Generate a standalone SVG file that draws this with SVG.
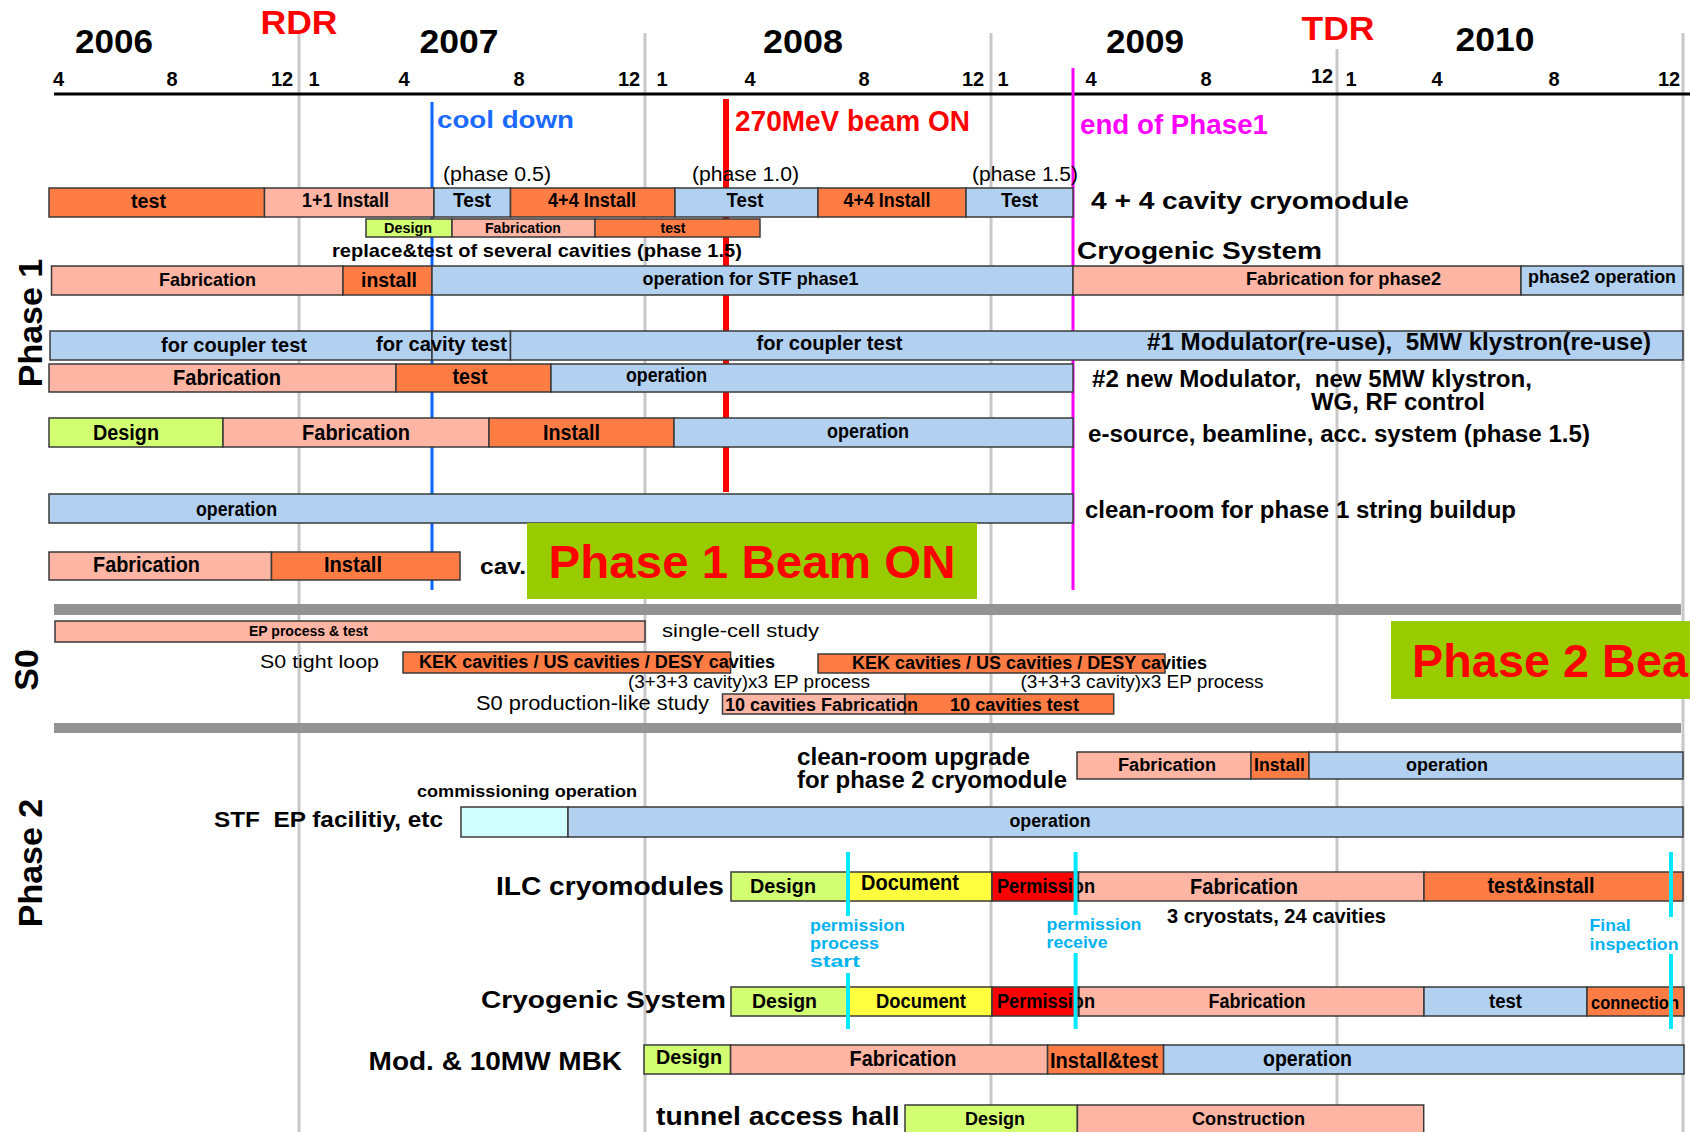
<svg xmlns="http://www.w3.org/2000/svg" width="1690" height="1132" viewBox="0 0 1690 1132">
<style>
text{font-family:"Liberation Sans",Arial,Helvetica,sans-serif;font-weight:bold;fill:#000}
.n{font-weight:normal}
.m{text-anchor:middle}
.r{fill:#ff0000}
.cy{fill:#00b2f0}
.or{fill:#ff7c45;stroke:#3a3a3a;stroke-width:1.5}
.sa{fill:#ffb5a3;stroke:#3a3a3a;stroke-width:1.5}
.bl{fill:#b2d0f0;stroke:#3a3a3a;stroke-width:1.5}
.gr{fill:#d3ff73;stroke:#3a3a3a;stroke-width:1.5}
.ye{fill:#ffff3f;stroke:#3a3a3a;stroke-width:1.5}
.rd{fill:#ff0000;stroke:#3a3a3a;stroke-width:1.5}
.lc{fill:#d2ffff;stroke:#3a3a3a;stroke-width:1.5}
.grid{stroke:#c8c8c8;stroke-width:3}
.sep{fill:#939393}
.cyl{stroke:#00eaff;stroke-width:4}
</style>
<rect width="1690" height="1132" fill="#fff"/>
<g id="grid">
<line class="grid" x1="299" y1="34" x2="299" y2="1132"/>
<line class="grid" x1="645" y1="33" x2="645" y2="1132"/>
<line class="grid" x1="991" y1="33" x2="991" y2="1132"/>
<line class="grid" x1="1337" y1="49" x2="1337" y2="1132"/>
<line class="grid" x1="1683" y1="33" x2="1683" y2="1132"/>
</g>
<g id="axis">
<line x1="54" y1="94" x2="1690" y2="94" stroke="#000" stroke-width="3"/>
<text x="114" y="53" class="m" font-size="33" textLength="78" lengthAdjust="spacingAndGlyphs">2006</text>
<text x="459" y="53" class="m" font-size="33" textLength="79" lengthAdjust="spacingAndGlyphs">2007</text>
<text x="803" y="53" class="m" font-size="33" textLength="80" lengthAdjust="spacingAndGlyphs">2008</text>
<text x="1145" y="53" class="m" font-size="33" textLength="78" lengthAdjust="spacingAndGlyphs">2009</text>
<text x="1495" y="51" class="m" font-size="33" textLength="79" lengthAdjust="spacingAndGlyphs">2010</text>
<text x="299" y="34" class="m r" font-size="33" textLength="77" lengthAdjust="spacingAndGlyphs">RDR</text>
<text x="1338" y="40" class="m r" font-size="33" textLength="73" lengthAdjust="spacingAndGlyphs">TDR</text>
<g font-size="20">
<text x="58.5" y="86" class="m">4</text>
<text x="172" y="86" class="m">8</text>
<text x="282" y="86" class="m">12</text>
<text x="314" y="86" class="m">1</text>
<text x="404" y="86" class="m">4</text>
<text x="519" y="86" class="m">8</text>
<text x="629" y="86" class="m">12</text>
<text x="662" y="86" class="m">1</text>
<text x="750" y="86" class="m">4</text>
<text x="864" y="86" class="m">8</text>
<text x="973" y="86" class="m">12</text>
<text x="1003" y="86" class="m">1</text>
<text x="1091" y="86" class="m">4</text>
<text x="1206" y="86" class="m">8</text>
<text x="1322" y="83" class="m">12</text>
<text x="1351" y="86" class="m">1</text>
<text x="1437" y="86" class="m">4</text>
<text x="1554" y="86" class="m">8</text>
<text x="1669" y="86" class="m">12</text>
</g>
</g>
<g id="events">
<line x1="432" y1="102" x2="432" y2="590" stroke="#0a64ff" stroke-width="3"/>
<line x1="726" y1="99" x2="726" y2="492" stroke="#ff0000" stroke-width="6"/>
<line x1="1073" y1="68" x2="1073" y2="590" stroke="#ff00ff" stroke-width="3"/>
<text x="437" y="128" font-size="23" style="fill:#1a6aff" textLength="137" lengthAdjust="spacingAndGlyphs">cool down</text>
<text x="735" y="131" font-size="29" class="r" textLength="235" lengthAdjust="spacingAndGlyphs">270MeV beam ON</text>
<text x="1080" y="134" font-size="27" style="fill:#ff00ff" textLength="188" lengthAdjust="spacingAndGlyphs">end of Phase1</text>
</g>
<g id="sections">
<text transform="translate(42,323) rotate(-90)" class="m" font-size="34">Phase 1</text>
<text transform="translate(38,670) rotate(-90)" class="m" font-size="34">S0</text>
<text transform="translate(42,863) rotate(-90)" class="m" font-size="34">Phase 2</text>
<rect class="sep" x="54" y="604" width="1627" height="11"/>
<rect class="sep" x="54" y="723" width="1627" height="10"/>
</g>
<g id="row-cryomodule">
<text x="443" y="181" class="n" font-size="19.5" textLength="108" lengthAdjust="spacingAndGlyphs">(phase 0.5)</text>
<text x="692" y="181" class="n" font-size="19.5" textLength="107" lengthAdjust="spacingAndGlyphs">(phase 1.0)</text>
<text x="972" y="181" class="n" font-size="19.5" textLength="106" lengthAdjust="spacingAndGlyphs">(phase 1.5)</text>
<rect class="or" x="49" y="188" width="215.5" height="29"/>
<rect class="sa" x="264.5" y="188" width="169.5" height="29"/>
<rect class="bl" x="434" y="188" width="76.5" height="29"/>
<rect class="or" x="510.5" y="188" width="164.5" height="29"/>
<rect class="bl" x="675" y="188" width="143" height="29"/>
<rect class="or" x="818" y="188" width="148" height="29"/>
<rect class="bl" x="966" y="188" width="107" height="29"/>
<g font-size="20">
<text x="148.5" y="208" class="m" textLength="35" lengthAdjust="spacingAndGlyphs">test</text>
<text x="345.5" y="207" class="m" textLength="87" lengthAdjust="spacingAndGlyphs">1+1 Install</text>
<text x="472" y="207" class="m" textLength="38" lengthAdjust="spacingAndGlyphs">Test</text>
<text x="592" y="207" class="m" textLength="88" lengthAdjust="spacingAndGlyphs">4+4 Install</text>
<text x="745" y="207" class="m" textLength="37" lengthAdjust="spacingAndGlyphs">Test</text>
<text x="887" y="207" class="m" textLength="87" lengthAdjust="spacingAndGlyphs">4+4 Install</text>
<text x="1019.5" y="207" class="m" textLength="37" lengthAdjust="spacingAndGlyphs">Test</text>
</g>
<text x="1091" y="209" font-size="23" textLength="318" lengthAdjust="spacingAndGlyphs">4 + 4 cavity cryomodule</text>
</g>
<g id="row-replace">
<rect class="gr" x="366" y="219" width="86" height="18"/>
<rect class="sa" x="452" y="219" width="143" height="18"/>
<rect class="or" x="595" y="219" width="165" height="18"/>
<g font-size="14">
<text x="408" y="233" class="m" textLength="48" lengthAdjust="spacingAndGlyphs">Design</text>
<text x="523" y="233" class="m" textLength="76" lengthAdjust="spacingAndGlyphs">Fabrication</text>
<text x="673" y="233" class="m" textLength="25" lengthAdjust="spacingAndGlyphs">test</text>
</g>
<text x="332" y="257" font-size="19" textLength="410" lengthAdjust="spacingAndGlyphs">replace&amp;test of several cavities (phase 1.5)</text>
</g>
<g id="row-cryogenic">
<text x="1077" y="259" font-size="23" textLength="245" lengthAdjust="spacingAndGlyphs">Cryogenic System</text>
<rect class="sa" x="51.5" y="266" width="291.5" height="29"/>
<rect class="or" x="343" y="266" width="89" height="29"/>
<rect class="bl" x="432" y="266" width="641" height="29"/>
<rect class="sa" x="1073" y="266" width="448" height="29"/>
<rect class="bl" x="1521" y="266" width="162" height="29"/>
<text x="207.5" y="286" class="m" font-size="19" textLength="97" lengthAdjust="spacingAndGlyphs">Fabrication</text>
<text x="389" y="287" class="m" font-size="21" textLength="56" lengthAdjust="spacingAndGlyphs">install</text>
<text x="750.5" y="285" class="m" font-size="19" textLength="216" lengthAdjust="spacingAndGlyphs">operation for STF phase1</text>
<text x="1343.5" y="285" class="m" font-size="19" textLength="195" lengthAdjust="spacingAndGlyphs">Fabrication for phase2</text>
<text x="1602" y="283" class="m" font-size="19" textLength="148" lengthAdjust="spacingAndGlyphs">phase2 operation</text>
</g>
<g id="row-modulator1">
<rect class="bl" x="50" y="331" width="382" height="29"/>
<rect class="bl" x="432" y="331" width="78.5" height="29"/>
<rect class="bl" x="510.5" y="331" width="1172.5" height="29"/>
<text x="234" y="352" class="m" font-size="21" textLength="146" lengthAdjust="spacingAndGlyphs">for coupler test</text>
<text x="441.5" y="351" class="m" font-size="21" textLength="131" lengthAdjust="spacingAndGlyphs">for cavity test</text>
<text x="829.5" y="350" class="m" font-size="21" textLength="146" lengthAdjust="spacingAndGlyphs">for coupler test</text>
<text x="1147" y="350" font-size="24" textLength="504" lengthAdjust="spacingAndGlyphs">#1 Modulator(re-use),&#160; 5MW klystron(re-use)</text>
</g>
<g id="row-modulator2">
<rect class="sa" x="49" y="364" width="347" height="28"/>
<rect class="or" x="396" y="364" width="155" height="28"/>
<rect class="bl" x="551" y="364" width="522" height="28"/>
<text x="227" y="385" class="m" font-size="22" textLength="108" lengthAdjust="spacingAndGlyphs">Fabrication</text>
<text x="470" y="384" class="m" font-size="22" textLength="35" lengthAdjust="spacingAndGlyphs">test</text>
<text x="666.5" y="382" class="m" font-size="20" textLength="81" lengthAdjust="spacingAndGlyphs">operation</text>
<text x="1092" y="387" font-size="23" textLength="440" lengthAdjust="spacingAndGlyphs">#2 new Modulator,&#160; new 5MW klystron,</text>
<text x="1311" y="410" font-size="23" textLength="174" lengthAdjust="spacingAndGlyphs">WG, RF control</text>
</g>
<g id="row-esource">
<rect class="gr" x="49" y="418" width="174" height="29"/>
<rect class="sa" x="223" y="418" width="266" height="29"/>
<rect class="or" x="489" y="418" width="185" height="29"/>
<rect class="bl" x="674" y="418" width="399" height="29"/>
<text x="126" y="440" class="m" font-size="22" textLength="66" lengthAdjust="spacingAndGlyphs">Design</text>
<text x="356" y="440" class="m" font-size="22" textLength="108" lengthAdjust="spacingAndGlyphs">Fabrication</text>
<text x="571.5" y="440" class="m" font-size="22" textLength="57" lengthAdjust="spacingAndGlyphs">Install</text>
<text x="868" y="438" class="m" font-size="20" textLength="82" lengthAdjust="spacingAndGlyphs">operation</text>
<text x="1088" y="442" font-size="23" textLength="502" lengthAdjust="spacingAndGlyphs">e-source, beamline, acc. system (phase 1.5)</text>
</g>
<g id="row-cleanroom">
<rect class="bl" x="49" y="494" width="1024" height="29"/>
<text x="236.5" y="516" class="m" font-size="20" textLength="81" lengthAdjust="spacingAndGlyphs">operation</text>
<text x="1085" y="518" font-size="23" textLength="431" lengthAdjust="spacingAndGlyphs">clean-room for phase 1 string buildup</text>
</g>
<g id="row-cav">
<rect class="sa" x="49" y="552" width="222.5" height="28"/>
<rect class="or" x="271.5" y="552" width="188.5" height="28"/>
<text x="146.5" y="572" class="m" font-size="22" textLength="107" lengthAdjust="spacingAndGlyphs">Fabrication</text>
<text x="353" y="572" class="m" font-size="22" textLength="58" lengthAdjust="spacingAndGlyphs">Install</text>
<text x="480" y="574" font-size="22" textLength="46" lengthAdjust="spacingAndGlyphs">cav.</text>
</g>
<g id="phase1-beam-on">
<rect x="527" y="523" width="450" height="76" fill="#99cc00"/>
<text x="548.5" y="578" font-size="46" class="r" textLength="407" lengthAdjust="spacingAndGlyphs">Phase 1 Beam ON</text>
</g>
<g id="s0-single-cell">
<rect class="sa" x="55" y="621" width="590" height="21"/>
<text x="308.5" y="636" class="m" font-size="14" textLength="119" lengthAdjust="spacingAndGlyphs">EP process &amp; test</text>
<text x="662" y="637" class="n" font-size="19" textLength="157" lengthAdjust="spacingAndGlyphs">single-cell study</text>
</g>
<g id="s0-tight-loop">
<text x="260" y="668" class="n" font-size="19" textLength="119" lengthAdjust="spacingAndGlyphs">S0 tight loop</text>
<rect class="or" x="403" y="652" width="327.6" height="21"/>
<text x="419" y="668" font-size="18" textLength="356" lengthAdjust="spacingAndGlyphs">KEK cavities / US cavities / DESY cavities</text>
<text x="628" y="688" class="n" font-size="18" textLength="242" lengthAdjust="spacingAndGlyphs">(3+3+3 cavity)x3 EP process</text>
<rect class="or" x="818" y="654" width="347" height="19"/>
<text x="852" y="669" font-size="18" textLength="355" lengthAdjust="spacingAndGlyphs">KEK cavities / US cavities / DESY cavities</text>
<text x="1020.5" y="688" class="n" font-size="18" textLength="243" lengthAdjust="spacingAndGlyphs">(3+3+3 cavity)x3 EP process</text>
</g>
<g id="s0-production">
<text x="476" y="710" class="n" font-size="20" textLength="233" lengthAdjust="spacingAndGlyphs">S0 production-like study</text>
<rect class="sa" x="722.5" y="694" width="182.5" height="20"/>
<rect class="or" x="905" y="694" width="208.7" height="20"/>
<text x="725" y="711" font-size="18" textLength="193" lengthAdjust="spacingAndGlyphs">10 cavities Fabrication</text>
<text x="950" y="711" font-size="18" textLength="129" lengthAdjust="spacingAndGlyphs">10 cavities test</text>
</g>
<g id="phase2-beam-on">
<rect x="1391" y="621" width="310" height="78" fill="#99cc00"/>
<text x="1412" y="677" font-size="47" class="r" textLength="276" lengthAdjust="spacingAndGlyphs">Phase 2 Bea</text>
</g>
<g id="p2-cleanroom">
<text x="797" y="765" font-size="23" textLength="233" lengthAdjust="spacingAndGlyphs">clean-room upgrade</text>
<text x="797" y="788" font-size="23" textLength="270" lengthAdjust="spacingAndGlyphs">for phase 2 cryomodule</text>
<rect class="sa" x="1077" y="752" width="174" height="27"/>
<rect class="or" x="1251" y="752" width="58" height="27"/>
<rect class="bl" x="1309" y="752" width="374" height="27"/>
<text x="1167" y="771" class="m" font-size="18" textLength="98" lengthAdjust="spacingAndGlyphs">Fabrication</text>
<text x="1279.5" y="771" class="m" font-size="18" textLength="51" lengthAdjust="spacingAndGlyphs">Install</text>
<text x="1447" y="771" class="m" font-size="18" textLength="82" lengthAdjust="spacingAndGlyphs">operation</text>
</g>
<g id="p2-stf">
<text x="417" y="797" font-size="17" textLength="220" lengthAdjust="spacingAndGlyphs">commissioning operation</text>
<text x="214" y="827" font-size="22" textLength="229" lengthAdjust="spacingAndGlyphs">STF&#160; EP facilitiy, etc</text>
<rect class="lc" x="461" y="807" width="107" height="30"/>
<rect class="bl" x="568" y="807" width="1115" height="30"/>
<text x="1050" y="827" class="m" font-size="19" textLength="81" lengthAdjust="spacingAndGlyphs">operation</text>
</g>
<g id="p2-ilc">
<text x="496" y="895" font-size="25" textLength="228" lengthAdjust="spacingAndGlyphs">ILC cryomodules</text>
<rect class="gr" x="731" y="872" width="116" height="29"/>
<rect class="ye" x="847" y="872" width="145" height="29"/>
<rect class="rd" x="992" y="872" width="86.5" height="29"/>
<rect class="sa" x="1078.5" y="872" width="345.5" height="29"/>
<rect class="or" x="1424" y="872" width="259" height="29"/>
<text x="783" y="893" class="m" font-size="20" textLength="66" lengthAdjust="spacingAndGlyphs">Design</text>
<text x="910" y="890" class="m" font-size="22" textLength="98" lengthAdjust="spacingAndGlyphs">Document</text>
<text x="1046" y="893" class="m" font-size="20" textLength="98" lengthAdjust="spacingAndGlyphs">Permission</text>
<text x="1244" y="894" class="m" font-size="22" textLength="108" lengthAdjust="spacingAndGlyphs">Fabrication</text>
<text x="1541" y="893" class="m" font-size="22" textLength="107" lengthAdjust="spacingAndGlyphs">test&amp;install</text>
<text x="1167" y="923" font-size="20" textLength="219" lengthAdjust="spacingAndGlyphs">3 cryostats, 24 cavities</text>
</g>
<g id="p2-cryo">
<text x="481" y="1008" font-size="23" textLength="245" lengthAdjust="spacingAndGlyphs">Cryogenic System</text>
<rect class="gr" x="731" y="987" width="116" height="29"/>
<rect class="ye" x="847" y="987" width="145" height="29"/>
<rect class="rd" x="992" y="987" width="87" height="29"/>
<rect class="sa" x="1079" y="987" width="345" height="29"/>
<rect class="bl" x="1424" y="987" width="163" height="29"/>
<rect class="or" x="1587" y="987" width="97" height="29"/>
<text x="784.5" y="1008" class="m" font-size="20" textLength="65" lengthAdjust="spacingAndGlyphs">Design</text>
<text x="921" y="1008" class="m" font-size="20" textLength="90" lengthAdjust="spacingAndGlyphs">Document</text>
<text x="1046" y="1008" class="m" font-size="20" textLength="98" lengthAdjust="spacingAndGlyphs">Permission</text>
<text x="1257" y="1008" class="m" font-size="20" textLength="97" lengthAdjust="spacingAndGlyphs">Fabrication</text>
<text x="1505.5" y="1008" class="m" font-size="20" textLength="33" lengthAdjust="spacingAndGlyphs">test</text>
<text x="1635" y="1009" class="m" font-size="19" textLength="88" lengthAdjust="spacingAndGlyphs">connection</text>
</g>
<g id="p2-permission-markers">
<line class="cyl" x1="848" y1="852" x2="848" y2="916"/>
<line class="cyl" x1="848" y1="973" x2="848" y2="1029"/>
<line class="cyl" x1="1075.6" y1="852" x2="1075.6" y2="915"/>
<line class="cyl" x1="1075.6" y1="953" x2="1075.6" y2="1029"/>
<line class="cyl" x1="1671" y1="852" x2="1671" y2="917"/>
<line class="cyl" x1="1671" y1="954" x2="1671" y2="1029"/>
<g font-size="17">
<text x="810" y="931" class="cy" textLength="95" lengthAdjust="spacingAndGlyphs">permission</text>
<text x="810" y="949" class="cy" textLength="69" lengthAdjust="spacingAndGlyphs">process</text>
<text x="810" y="967" class="cy" textLength="50" lengthAdjust="spacingAndGlyphs">start</text>
<text x="1046.5" y="930" class="cy" textLength="95" lengthAdjust="spacingAndGlyphs">permission</text>
<text x="1046.5" y="948" class="cy" textLength="61" lengthAdjust="spacingAndGlyphs">receive</text>
<text x="1589.6" y="931" class="cy" textLength="41" lengthAdjust="spacingAndGlyphs">Final</text>
<text x="1589.6" y="950" class="cy" textLength="89" lengthAdjust="spacingAndGlyphs">inspection</text>
</g>
</g>
<g id="p2-mod">
<text x="368.6" y="1070" font-size="25" textLength="253.5" lengthAdjust="spacingAndGlyphs">Mod. &amp; 10MW MBK</text>
<rect class="gr" x="644" y="1045" width="86.6" height="29"/>
<rect class="sa" x="730.6" y="1045" width="317" height="29"/>
<rect class="or" x="1047.6" y="1045" width="116" height="29"/>
<rect class="bl" x="1163.6" y="1045" width="520.4" height="29"/>
<text x="689" y="1064" class="m" font-size="20" textLength="66" lengthAdjust="spacingAndGlyphs">Design</text>
<text x="903" y="1066" class="m" font-size="22" textLength="107" lengthAdjust="spacingAndGlyphs">Fabrication</text>
<text x="1104" y="1068" class="m" font-size="22" textLength="108" lengthAdjust="spacingAndGlyphs">Install&amp;test</text>
<text x="1307.5" y="1066" class="m" font-size="22" textLength="89" lengthAdjust="spacingAndGlyphs">operation</text>
</g>
<g id="p2-tunnel">
<text x="656" y="1125" font-size="25" textLength="243.6" lengthAdjust="spacingAndGlyphs">tunnel access hall</text>
<rect class="gr" x="905" y="1105" width="172.4" height="30"/>
<rect class="sa" x="1077.4" y="1105" width="346.3" height="30"/>
<text x="995" y="1125" class="m" font-size="19" textLength="60" lengthAdjust="spacingAndGlyphs">Design</text>
<text x="1248.5" y="1125" class="m" font-size="19" textLength="113" lengthAdjust="spacingAndGlyphs">Construction</text>
</g>
</svg>
